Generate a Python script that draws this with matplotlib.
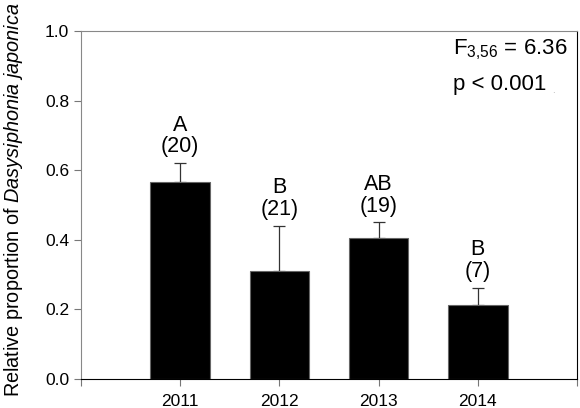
import numpy as np
from matplotlib import pyplot as plt

plt.rcParams['font.family'] = ['Liberation Sans', 'DejaVu Sans']
plt.rcParams['mathtext.fontset'] = 'custom'
plt.rcParams['mathtext.rm'] = 'Liberation Sans'
plt.rcParams['mathtext.it'] = 'Liberation Sans:italic'

years  = [2011, 2012, 2013, 2014]
means  = [0.566, 0.31, 0.404, 0.213]
errs   = [0.055, 0.131, 0.046, 0.050]
groups = ['A', 'B', 'AB', 'B']
counts = [20, 21, 19, 7]

fig = plt.figure(figsize=(5.8, 4.08), dpi=100)
ax = fig.add_axes([0.1397, 0.071, 0.855, 0.853])

ax.bar(years, means, width=0.6, color='black', edgecolor='#666666', linewidth=0.8, zorder=2)
ax.errorbar(years, means, yerr=[np.zeros(len(errs)), errs], fmt='none',
            ecolor='#333333', elinewidth=0.9, capsize=4, capthick=0.9, zorder=1)

for x, m, e, g, n in zip(years, means, errs, groups, counts):
    ax.annotate('{}\n({})'.format(g, n), (x, m + e), xytext=(0, 4),
                textcoords='offset points', ha='center', va='bottom',
                fontsize=15.5, linespacing=1.05)

ax.set_xlim(2010, 2015)
ax.set_ylim(0, 1.0)
ax.set_xticks([2010, 2011, 2012, 2013, 2014, 2015])
ax.set_xticklabels(['', '2011', '2012', '2013', '2014', ''])
ax.set_yticks(np.arange(0, 1.01, 0.2))
ax.set_yticklabels(['{:.1f}'.format(v) for v in np.arange(0, 1.01, 0.2)])
ax.tick_params(axis='both', labelsize=12.5, length=5, color='#777777')
ax.tick_params(axis='x', pad=6)

ax.spines['left'].set_color('#888888')
ax.spines['top'].set_color('#888888')
ax.spines['bottom'].set_color('black')
ax.spines['right'].set_color('black')

ax.set_ylabel(r'Relative proportion of $\it{Dasysiphonia\ japonica}$', fontsize=14.3)
ax.yaxis.set_label_coords(-0.113, 0.514)

ax.text(0.75, 0.945, r'F$_{3{,}56}$ = 6.36', transform=ax.transAxes, fontsize=16, va='center')
ax.text(0.75, 0.845, 'p < 0.001', transform=ax.transAxes, fontsize=16, va='center')
ax.text(0.95, 0.83, '.', transform=ax.transAxes, fontsize=7, color='#aaaaaa', va='center')

fig.savefig('out.png')
